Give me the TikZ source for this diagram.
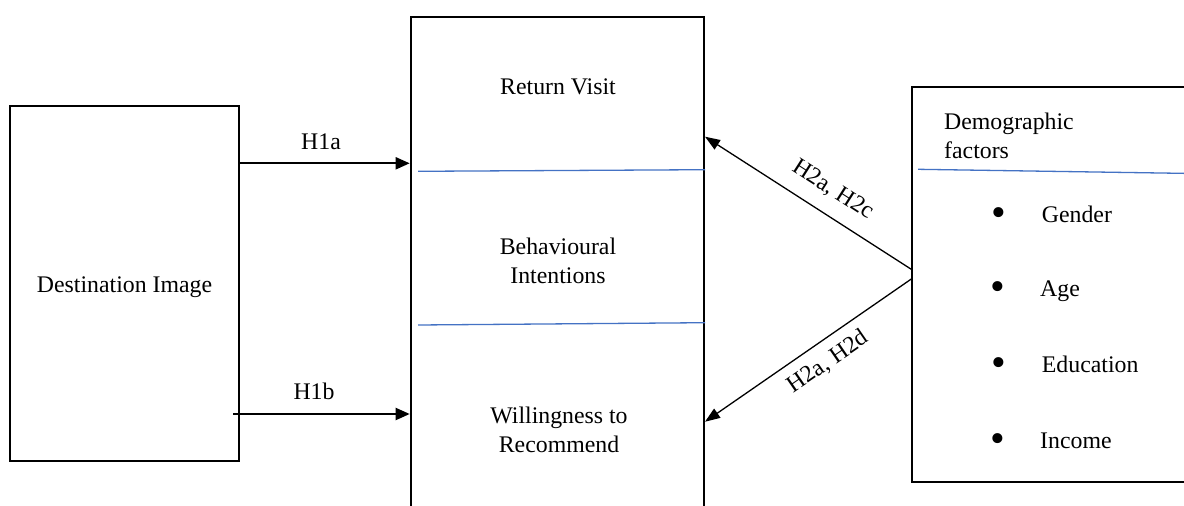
\documentclass[tikz,border=0pt]{standalone}
\usepackage{fontspec}
\setmainfont{Liberation Serif}
\usetikzlibrary{arrows.meta}
\definecolor{divblue}{HTML}{4472C4}
\tikzset{
  box/.style={draw, line width=2pt, rectangle, inner sep=0pt},
  lbl/.style={font=\fontsize{23.8}{29}\selectfont, inner sep=0pt},
  bul/.style={font=\fontsize{42}{42}\selectfont, inner sep=0pt, anchor=base},
  divider/.style={draw=divblue, line width=1.3pt},
  thickarr/.style={line width=2pt, -{Triangle[length=14pt,width=12pt]}},
  thinarr/.style={line width=1.3pt, -{Triangle[length=15pt,width=11pt]}},
}
\begin{document}
\begin{tikzpicture}[x=1pt,y=-1pt]
\useasboundingbox (0,0) rectangle (1184,506);
\clip (0,0) rectangle (1184,506);
\fill[white] (0,0) rectangle (1184,506);

% boxes
\node[box, minimum width=229pt, minimum height=355pt] (dest) at (124.5,283.5) {};
\node[box, minimum width=293.3pt, minimum height=513.3pt] (mid) at (557.35,273.35) {};
\node[box, minimum width=287.7pt, minimum height=395pt] (demo) at (1056.15,284.5) {};

% dividers
\draw[divider] (418,171.3) -- (705,169.7);
\draw[divider] (418,325) -- (705,322.7);
\draw[divider] (918,169.3) -- (1200,173.6);

% texts
\node[lbl, anchor=base] (tdest) at (124.5,292.7) {Destination Image};
\node[lbl, anchor=base] (trv) at (558,94) {Return Visit};
\node[lbl, anchor=north, align=center] (tbi) at (558,237.3) {Behavioural\\Intentions};
\node[lbl, anchor=north, align=center] (twr) at (559,406.5) {Willingness to\\Recommend};
\node[lbl, anchor=north west, align=left] (tdf) at (944,113.1) {Demographic\\factors};

\node[lbl, anchor=base west] (tg) at (1041.7,222.7) {Gender};
\node[lbl, anchor=base west] (ta) at (1040,296) {Age};
\node[lbl, anchor=base west] (te) at (1041.7,372.7) {Education};
\node[lbl, anchor=base west] (ti) at (1040,448.3) {Income};
\node[bul] (bg) at (999,226.8) {•};
\node[bul] (ba) at (997.7,300.1) {•};
\node[bul] (be) at (999.3,376.8) {•};
\node[bul] (bi) at (997.7,452.8) {•};

% connectors
\coordinate (h1bstart) at (233,414);
\draw[thickarr] (dest.east |- 0,163.3) -- (mid.west |- 0,163.3);
\draw[thickarr] (h1bstart) -- (mid.west |- 0,414);
\node[lbl, anchor=base] (lh1a) at (321,149.3) {H1a};
\node[lbl, anchor=base] (lh1b) at (314,399.3) {H1b};

\draw[thinarr] (demo.west |- 0,269.3) -- (mid.east |- 0,136.7);
\draw[thinarr] (demo.west |- 0,279) -- (mid.east |- 0,421.7);
\node[lbl, rotate=-32.6] (lh2c) at (833,190) {H2a, H2c};
\node[lbl, rotate=34.6] (lh2d) at (828,362) {H2a, H2d};
\end{tikzpicture}
\end{document}
